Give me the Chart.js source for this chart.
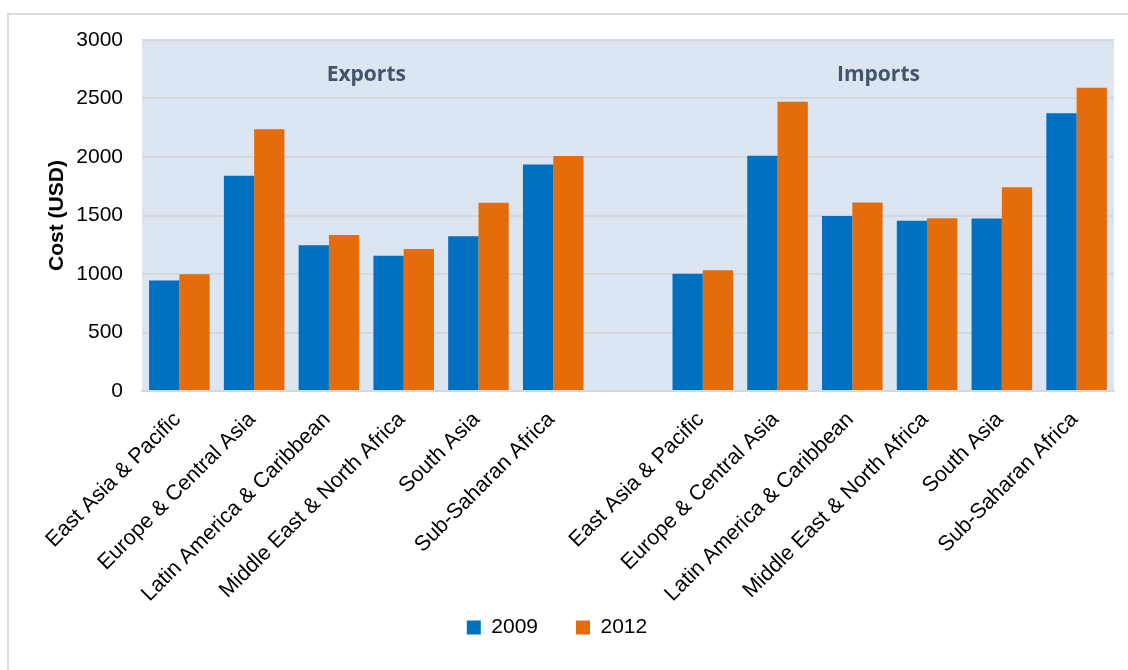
<!DOCTYPE html>
<html>
<head>
<meta charset="utf-8">
<script src="https://cdn.jsdelivr.net/npm/chart.js@4.4.1/dist/chart.umd.min.js"></script>
<style>
    html, body { margin: 0; padding: 0; background: #fff; overflow: hidden; }
    #frame {
        position: absolute; left: 7px; top: 13px; width: 1140px; height: 680px;
        border: 2px solid #dcdcdc; box-sizing: border-box;
    }
    #wrap { position: absolute; left: 0; top: 0; width: 1128px; height: 670px; }
</style>
</head>
<body>
<div id="frame"></div>
<div id="wrap"><canvas id="costChart"></canvas></div>
<script>
// categories: exports block, an empty slot, imports block
const categories = [
    'East Asia & Pacific', 'Europe & Central Asia', 'Latin America & Caribbean',
    'Middle East & North Africa', 'South Asia', 'Sub-Saharan Africa',
    '',
    'East Asia & Pacific', 'Europe & Central Asia', 'Latin America & Caribbean',
    'Middle East & North Africa', 'South Asia', 'Sub-Saharan Africa'
];
const cost2009 = [945, 1840, 1245, 1157, 1322, 1935, null, 1003, 2010, 1495, 1456, 1475, 2375];
const cost2012 = [997, 2238, 1333, 1213, 1609, 2008, null, 1032, 2473, 1612, 1476, 1742, 2592];
const yTicks = [0, 500, 1000, 1500, 2000, 2500, 3000];
const groupLabels = [
    { text: 'Exports', at: 2.5 },
    { text: 'Imports', at: 9.35 }
];

const plotBackground = {
    id: 'plotBackground',
    beforeDraw(chart) {
        const { ctx, chartArea } = chart;
        ctx.save();
        ctx.fillStyle = '#dce6f2';
        ctx.fillRect(chartArea.left, chartArea.top, chartArea.right - chartArea.left, chartArea.bottom - chartArea.top);
        ctx.restore();
    }
};

// let the slanted category labels run past the axis box (down into the legend band)
const unclipLabels = {
    id: 'unclipLabels',
    afterLayout(chart) {
        chart.scales.x.bottom = chart.height;
    }
};

const groupTitles = {
    id: 'groupTitles',
    afterDatasetsDraw(chart) {
        const { ctx, chartArea } = chart;
        const xScale = chart.scales.x;
        ctx.save();
        ctx.font = 'bold 21px "Open Sans", sans-serif';
        ctx.fillStyle = '#44546a';
        ctx.textAlign = 'center';
        ctx.textBaseline = 'alphabetic';
        groupLabels.forEach(g => {
            ctx.fillText(g.text, xScale.getPixelForValue(g.at), chartArea.top + 40.5);
        });
        ctx.restore();
    }
};

new Chart(document.getElementById('costChart').getContext('2d'), {
    type: 'bar',
    data: {
        labels: categories,
        datasets: [{
            label: '2009',
            data: cost2009,
            backgroundColor: '#0070c0',
            categoryPercentage: 0.81,
            barPercentage: 1
        }, {
            label: '2012',
            data: cost2012,
            backgroundColor: '#e46c0a',
            categoryPercentage: 0.81,
            barPercentage: 1
        }]
    },
    options: {
        responsive: true,
        maintainAspectRatio: false,
        animation: false,
        layout: { padding: { top: 40, right: 14, left: 0, bottom: 22 } },
        plugins: {
            legend: {
                position: 'bottom',
                labels: {
                    color: '#000',
                    font: { family: 'Liberation Sans, Arial, sans-serif', size: 21 },
                    boxWidth: 14,
                    boxHeight: 14,
                    padding: 38
                }
            },
            tooltip: { enabled: false }
        },
        scales: {
            x: {
                grid: { display: false },
                border: { color: '#d4d7dc', width: 2 },
                ticks: {
                    color: '#000',
                    font: { family: 'Liberation Sans, Arial, sans-serif', size: 21.5 },
                    minRotation: 45,
                    maxRotation: 45,
                    autoSkip: false,
                    padding: 8,
                    labelOffset: -2
                },
                afterFit(scale) { scale.height = 188; }
            },
            y: {
                min: 0,
                max: 3000,
                afterBuildTicks(scale) { scale.ticks = yTicks.map(v => ({ value: v })); },
                grid: { color: '#d4d7dc', lineWidth: 2, drawTicks: false },
                border: { display: false },
                ticks: {
                    color: '#000',
                    font: { family: 'Liberation Sans, Arial, sans-serif', size: 21 },
                    padding: 19,
                    callback: v => String(v)
                },
                title: {
                    display: true,
                    text: 'Cost (USD)',
                    color: '#000',
                    font: { family: 'Liberation Sans, Arial, sans-serif', size: 21, weight: 'bold' },
                    padding: { top: 45, bottom: 0 }
                },
                afterFit(scale) { scale.width = 142; }
            }
        }
    },
    plugins: [plotBackground, unclipLabels, groupTitles]
});
</script>
</body>
</html>
